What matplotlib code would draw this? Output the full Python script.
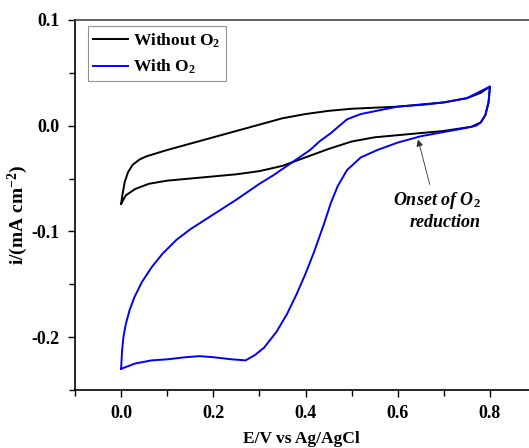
import matplotlib
matplotlib.use("Agg")
import matplotlib.pyplot as plt
from matplotlib.ticker import MultipleLocator

plt.rcParams['font.family'] = ['Liberation Serif', 'DejaVu Serif']
plt.rcParams['font.weight'] = 'bold'
plt.rcParams['mathtext.fontset'] = 'custom'
plt.rcParams['mathtext.rm'] = 'Liberation Serif:bold'
plt.rcParams['mathtext.it'] = 'Liberation Serif:bold:italic'
plt.rcParams['axes.unicode_minus'] = False

# --- data (E in V, i in mA cm^-2) ---
# without O2: anodic sweep then cathodic sweep
e_n2_fwd = [0.0, 0.003, 0.008, 0.015, 0.025, 0.04, 0.055, 0.07, 0.1, 0.15, 0.2, 0.25,
            0.3, 0.35, 0.4, 0.45, 0.5, 0.55, 0.6, 0.65, 0.7, 0.75, 0.78, 0.8]
i_n2_fwd = [-0.074, -0.065, -0.053, -0.044, -0.037, -0.032, -0.029, -0.027, -0.023,
            -0.017, -0.011, -0.005, 0.001, 0.007, 0.011, 0.014, 0.016, 0.017, 0.018,
            0.020, 0.022, 0.026, 0.031, 0.037]
e_n2_rev = [0.8, 0.797, 0.79, 0.78, 0.76, 0.73, 0.7, 0.65, 0.6, 0.55, 0.5, 0.45, 0.4,
            0.35, 0.3, 0.25, 0.2, 0.15, 0.1, 0.06, 0.03, 0.01, 0.0]
i_n2_rev = [0.037, 0.022, 0.010, 0.003, -0.001, -0.003, -0.005, -0.007, -0.009, -0.011,
            -0.015, -0.022, -0.030, -0.038, -0.043, -0.046, -0.048, -0.050, -0.052,
            -0.055, -0.060, -0.066, -0.074]

# with O2
e_o2_fwd = [0.0, 0.03, 0.066, 0.1, 0.14, 0.17, 0.2, 0.24, 0.27, 0.29, 0.31, 0.337,
            0.36, 0.38, 0.4, 0.418, 0.44, 0.455, 0.47, 0.49, 0.52, 0.556, 0.6, 0.65,
            0.7, 0.75, 0.77, 0.78, 0.79, 0.797, 0.8]
i_o2_fwd = [-0.230, -0.225, -0.222, -0.221, -0.219, -0.218, -0.219, -0.221, -0.222,
            -0.217, -0.210, -0.195, -0.178, -0.160, -0.140, -0.120, -0.093, -0.073,
            -0.057, -0.042, -0.030, -0.023, -0.016, -0.010, -0.006, -0.002, 0.000,
            0.003, 0.010, 0.022, 0.037]
e_o2_rev = [0.8, 0.75, 0.7, 0.66, 0.6, 0.565, 0.52, 0.49, 0.455, 0.43, 0.41, 0.38,
            0.36, 0.33, 0.3, 0.25, 0.2, 0.15, 0.12, 0.09, 0.066, 0.045, 0.029, 0.018,
            0.01, 0.005, 0.002, 0.0]
i_o2_rev = [0.037, 0.026, 0.022, 0.020, 0.018, 0.015, 0.011, 0.006, -0.007, -0.015,
            -0.023, -0.032, -0.038, -0.047, -0.055, -0.070, -0.084, -0.098, -0.108,
            -0.121, -0.134, -0.148, -0.162, -0.175, -0.188, -0.200, -0.213, -0.230]

onset_e, onset_i = 0.644, -0.013

fig = plt.figure(figsize=(5.29, 4.48), dpi=100)
ax = fig.add_axes([0.1418, 0.1295, 0.8715, 0.826])

ax.plot(e_n2_fwd + e_n2_rev, i_n2_fwd + i_n2_rev, color='black', lw=1.4,
        label='Without O$_2$')
ax.plot(e_o2_fwd + e_o2_rev, i_o2_fwd + i_o2_rev, color='#0000ff', lw=1.4,
        label='With O$_2$')

ax.set_xlim(-0.1, 0.9)
ax.set_ylim(-0.25, 0.1)
ax.xaxis.set_major_locator(MultipleLocator(0.2))
ax.xaxis.set_minor_locator(MultipleLocator(0.1))
ax.yaxis.set_major_locator(MultipleLocator(0.1))
ax.yaxis.set_minor_locator(MultipleLocator(0.05))
ax.set_xticks([0.0, 0.2, 0.4, 0.6, 0.8])
ax.set_xticklabels(['0.0', '0.2', '0.4', '0.6', '0.8'])
ax.set_yticks([-0.2, -0.1, 0.0, 0.1])
ax.set_yticklabels(['-0.2', '-0.1', '0.0', '0.1'])
ax.tick_params(which='major', direction='out', length=5, width=1, labelsize=13, pad=6)
ax.tick_params(which='minor', direction='out', length=4, width=1)
ax.spines['right'].set_visible(False)
for s in ['left', 'bottom', 'top']:
    ax.spines[s].set_linewidth(1.2)
ax.spines['top'].set_color('#444444')

ax.set_xlabel('E/V vs Ag/AgCl', fontsize=12.5, fontweight='bold')
ax.xaxis.set_label_coords(0.491, -0.112)
ax.set_ylabel('i/(mA cm$^{-2}$)', fontsize=14, fontweight='bold')
ax.yaxis.set_label_coords(-0.097, 0.473)

leg = ax.legend(loc='upper left', bbox_to_anchor=(0.028, 0.983), borderaxespad=0,
                fancybox=False, edgecolor='#777777', handlelength=2.0,
                handletextpad=0.3, borderpad=0.3, labelspacing=0.45,
                prop={'weight': 'bold', 'size': 12.5})
leg.get_frame().set_linewidth(0.8)

ax.annotate('Onset of O$_2$\nreduction', xy=(onset_e, onset_i), xytext=(0.684, -0.080),
            ha='center', va='center', multialignment='right', fontsize=13,
            fontweight='bold', fontstyle='italic',
            arrowprops=dict(arrowstyle='-|>', color='#333333', lw=0.6,
                            mutation_scale=10, shrinkA=2, shrinkB=0))

fig.savefig('out.png', dpi=100)
